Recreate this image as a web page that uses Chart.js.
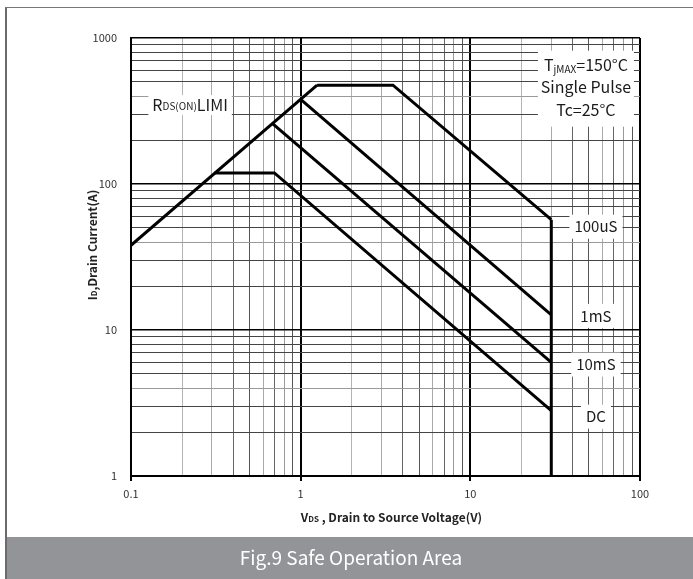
<!DOCTYPE html>
<html>
<head>
<meta charset="utf-8">
<script src="https://cdn.jsdelivr.net/npm/chart.js@4/dist/chart.umd.min.js"></script>
<style>
  body { margin: 0; background: #fff; }
  #wrap { width: 693px; height: 579px; }
</style>
</head>
<body>
<div id="wrap"><canvas id="soaChart" width="693" height="579"></canvas></div>
<script>
// tick labels on the two log axes
const xMajorTicks = [0.1, 1, 10, 100];
const yMajorTicks = [1, 10, 100, 1000];

// curves (V in volts, I in amps)
const rdsLimitV = [0.1, 1.25];
const rdsLimitI = [38, 475];
const pulse100usV = [1.25, 3.5, 30];
const pulse100usI = [475, 475, 57];
const pulse1msV = [1, 30];
const pulse1msI = [380, 12.7];
const pulse10msV = [0.68, 30];
const pulse10msI = [260, 6];
const dcV = [0.31, 0.7, 30];
const dcI = [119, 119, 2.8];
const vdsMaxV = [30, 30];
const vdsMaxI = [57, 1];

// curve labels on the right hand side
const curveLabels = ['100uS', '1mS', '10mS', 'DC'];
const curveLabelI = [51, 12.5, 5.8, 2.55];
const curveLabelV = 55;

const FONT = '"Noto Sans CJK SC", "Noto Sans", sans-serif';

function pts(xs, ys) {
    return xs.map((x, i) => ({x: x, y: ys[i]}));
}

function isMajor(v) {
    const l = Math.log10(v);
    return Math.abs(l - Math.round(l)) < 1e-6;
}

function sig(v) {
    return Math.round(v / Math.pow(10, Math.floor(Math.log10(v) + 1e-9)));
}

// every 1..9 line of each decade, for the grid
function logGrid(majors) {
    const out = [];
    for (let i = 0; i < majors.length - 1; i++) {
        for (let k = 1; k <= 9; k++) out.push(majors[i] * k);
    }
    out.push(majors[majors.length - 1]);
    return out;
}

const xMinorColor = {2: '#b4b4b4', 3: '#aaaaaa', 4: '#666', 5: '#555', 6: '#aaaaaa', 7: '#666', 8: '#999', 9: '#555'};
const yMinorColor = {2: '#444', 3: '#444', 4: '#9a9a9a', 5: '#444', 6: '#444', 7: '#444', 8: '#444', 9: '#444'};

function line(label, xs, ys) {
    return {
        label: label,
        data: pts(xs, ys),
        borderColor: '#000',
        borderWidth: 3,
        pointRadius: 0,
        showLine: true,
        tension: 0,
        fill: false
    };
}

// draw a run of text pieces (for subscripts)
function richWidth(ctx, parts) {
    let w = 0;
    parts.forEach(p => {
        ctx.font = (p.bold ? 'bold ' : '') + p.size + 'px ' + FONT;
        w += ctx.measureText(p.t).width;
    });
    return w;
}
function drawRich(ctx, parts, cx, cy) {
    const w = richWidth(ctx, parts);
    let x = cx - w / 2;
    ctx.textAlign = 'left';
    ctx.textBaseline = 'middle';
    parts.forEach(p => {
        ctx.font = (p.bold ? 'bold ' : '') + p.size + 'px ' + FONT;
        ctx.fillText(p.t, x, cy + (p.dy || 0));
        x += ctx.measureText(p.t).width;
    });
    return w;
}
function boxedRich(ctx, parts, cx, cy, padX, h) {
    const w = richWidth(ctx, parts);
    ctx.fillStyle = '#fff';
    ctx.fillRect(cx - w / 2 - padX, cy - h / 2, w + padX * 2, h);
    ctx.fillStyle = '#1a1a1a';
    drawRich(ctx, parts, cx, cy);
}

const decorations = {
    id: 'decorations',
    beforeDraw(chart) {
        const ctx = chart.ctx;
        ctx.save();
        ctx.fillStyle = '#fff';
        ctx.fillRect(0, 0, chart.width, chart.height);
        // page frame
        ctx.fillStyle = '#6b6b6b';
        ctx.fillRect(5, 7, 2, chart.height - 7);
        ctx.fillStyle = '#777';
        ctx.fillRect(5, 7, chart.width - 5, 1);
        // caption band
        ctx.fillStyle = '#939498';
        ctx.fillRect(7, 537, chart.width - 7, chart.height - 537);
        ctx.fillStyle = '#fff';
        ctx.font = '19px ' + FONT;
        ctx.textAlign = 'center';
        ctx.textBaseline = 'middle';
        ctx.fillText('Fig.9 Safe Operation Area', 351, 558);
        ctx.restore();
    },
    afterDatasetsDraw(chart) {
        const ctx = chart.ctx;
        const xs = chart.scales.x, ys = chart.scales.y;
        const area = chart.chartArea;
        ctx.save();

        // conditions box, top right
        const cx = xs.getPixelForValue(48);
        ctx.fillStyle = '#fff';
        ctx.fillRect(cx - 48, ys.getPixelForValue(900) + 6, 96, 76);
        ctx.fillStyle = '#1a1a1a';
        drawRich(ctx, [{t: 'T', size: 16}, {t: 'jMAX', size: 10, dy: 4}, {t: '=150°C', size: 16}], cx, ys.getPixelForValue(653));
        drawRich(ctx, [{t: 'Single Pulse', size: 16}], cx, ys.getPixelForValue(462));
        drawRich(ctx, [{t: 'Tc=25°C', size: 16}], cx, ys.getPixelForValue(321));

        // Rds(on) limit label
        boxedRich(ctx, [{t: 'R', size: 16}, {t: 'DS(ON)', size: 10, dy: 1}, {t: 'LIMI', size: 16}],
            xs.getPixelForValue(0.223), ys.getPixelForValue(347), 4, 20);

        // pulse width labels
        curveLabels.forEach((txt, i) => {
            boxedRich(ctx, [{t: txt, size: 15}], xs.getPixelForValue(curveLabelV), ys.getPixelForValue(curveLabelI[i]), 5, 24);
        });

        // axis titles with subscripts
        ctx.fillStyle = '#222';
        drawRich(ctx, [{t: 'V', size: 12, bold: true}, {t: 'DS', size: 8, bold: true, dy: 2}, {t: ' , Drain to Source Voltage(V)', size: 12, bold: true}],
            (area.left + area.right) / 2 + 6, 517);
        ctx.translate(92, (area.top + area.bottom) / 2 - 12);
        ctx.rotate(-Math.PI / 2);
        drawRich(ctx, [{t: 'I', size: 12, bold: true}, {t: 'D', size: 8, bold: true, dy: 2}, {t: ',Drain Current(A)', size: 12, bold: true}], 0, 0);
        ctx.restore();
    }
};

const ctx = document.getElementById('soaChart');

new Chart(ctx, {
    type: 'scatter',
    data: {
        datasets: [
            line('RDS(on) limit', rdsLimitV, rdsLimitI),
            line('100uS', pulse100usV, pulse100usI),
            line('1mS', pulse1msV, pulse1msI),
            line('10mS', pulse10msV, pulse10msI),
            line('DC', dcV, dcI),
            line('VDS max', vdsMaxV, vdsMaxI)
        ]
    },
    options: {
        responsive: false,
        animation: false,
        layout: { padding: { top: 38, right: 53, left: 0, bottom: 0 } },
        plugins: {
            legend: { display: false },
            tooltip: { enabled: false }
        },
        scales: {
            x: {
                type: 'logarithmic',
                min: 0.1,
                max: 100,
                afterBuildTicks: s => { s.ticks = logGrid(xMajorTicks).map(v => ({value: v, major: isMajor(v)})); },
                afterFit: s => { s.height = 103; },
                border: { display: true, color: '#000', width: 2 },
                grid: {
                    color: c => isMajor(c.tick.value) ? '#000' : xMinorColor[sig(c.tick.value)],
                    lineWidth: c => isMajor(c.tick.value) ? 2 : 1,
                    tickColor: c => isMajor(c.tick.value) ? '#000' : 'rgba(0,0,0,0)',
                    tickLength: 5,
                    drawTicks: true
                },
                ticks: {
                    autoSkip: false,
                    maxRotation: 0,
                    padding: 6,
                    color: '#333',
                    font: { family: FONT, size: 11 },
                    callback: v => isMajor(v) ? String(v) : ''
                }
            },
            y: {
                type: 'logarithmic',
                min: 1,
                max: 1000,
                afterBuildTicks: s => { s.ticks = logGrid(yMajorTicks).map(v => ({value: v, major: isMajor(v)})); },
                afterFit: s => { s.width = 131; },
                border: { display: true, color: '#000', width: 2 },
                grid: {
                    color: c => isMajor(c.tick.value) ? '#000' : yMinorColor[sig(c.tick.value)],
                    lineWidth: c => isMajor(c.tick.value) ? 1.5 : 1,
                    drawTicks: false
                },
                ticks: {
                    autoSkip: false,
                    padding: 14,
                    color: '#333',
                    font: { family: FONT, size: 11 },
                    callback: v => isMajor(v) ? String(v) : ''
                }
            }
        }
    },
    plugins: [decorations]
});
</script>
</body>
</html>
